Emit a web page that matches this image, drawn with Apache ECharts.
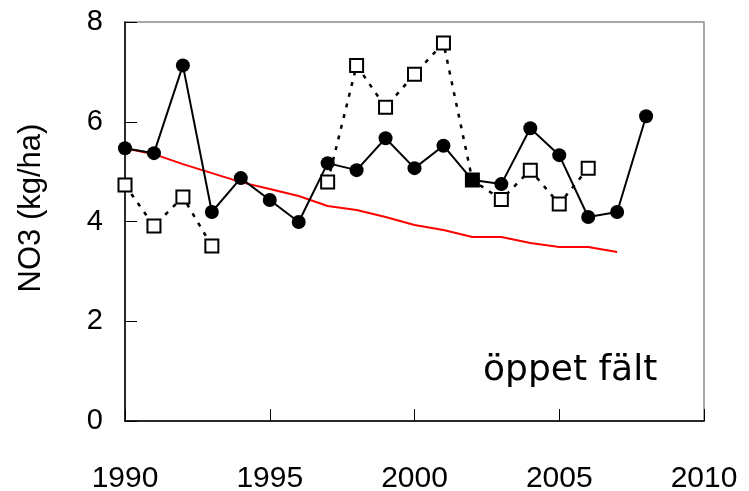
<!DOCTYPE html>
<html>
<head>
<meta charset="utf-8">
<script src="https://cdn.jsdelivr.net/npm/echarts@6/dist/echarts.min.js"></script>
<style>
  html, body { margin: 0; padding: 0; background: #fff; }
  #chart { width: 749px; height: 491px; }
</style>
</head>
<body>
<div id="chart"></div>
<script>
// år och mätvärden
const years = [1990, 1991, 1992, 1993, 1994, 1995, 1996, 1997, 1998, 1999,
  2000, 2001, 2002, 2003, 2004, 2005, 2006, 2007, 2008];
const filledValues = [5.47, 5.37, 7.13, 4.19, 4.87, 4.43, 3.99, 5.17, 5.03, 5.67,
  5.07, 5.52, 4.83, 4.75, 5.87, 5.33, 4.09, 4.19, 6.11];
const openValues = [4.73, 3.91, 4.49, 3.51, null, null, null, 4.79, 7.13, 6.29,
  6.95, 7.58, 4.83, 4.44, 5.03, 4.35, 5.07, null, null];
const trendValues = [5.47, 5.35, 5.15, 4.97, 4.79, 4.65, 4.51, 4.31, 4.23, 4.09,
  3.93, 3.83, 3.69, 3.69, 3.57, 3.49, 3.49, 3.39, null];
const blackSquareYear = 2002;

const font = '"Liberation Sans", Arial, sans-serif';

function pairs(vals) {
  return years.map((y, i) => [y, vals[i]]);
}

const chart = echarts.init(document.getElementById('chart'));

const option = {
  animation: false,
  grid: {
    left: 125, top: 22, right: 45, bottom: 70,
    outerBoundsMode: 'none',
    containLabel: false,
    show: true,
    borderColor: '#8c8c8c',
    borderWidth: 1.5,
    backgroundColor: 'transparent'
  },
  xAxis: {
    type: 'value',
    min: 1990, max: 2010, interval: 5,
    splitLine: { show: false },
    axisLine: { lineStyle: { color: '#000', width: 1.5 } },
    axisTick: { inside: true, length: 12, lineStyle: { color: '#000', width: 1 } },
    axisLabel: {
      color: '#000', fontSize: 30, fontFamily: font, margin: 43,
      formatter: v => String(v)
    }
  },
  yAxis: {
    type: 'value',
    min: 0, max: 8, interval: 2,
    splitLine: { show: false },
    axisLine: { show: true, lineStyle: { color: '#000', width: 1.5 } },
    axisTick: { show: true, inside: true, length: 12, lineStyle: { color: '#000', width: 1 } },
    axisLabel: { color: '#000', fontSize: 29, fontFamily: font, margin: 22 }
  },
  graphic: [
    {
      type: 'text',
      x: 31, y: 208,
      rotation: Math.PI / 2,
      style: {
        text: 'NO3 (kg/ha)',
        fontSize: 31, fontFamily: font, fill: '#000',
        align: 'center', verticalAlign: 'middle'
      }
    },
    {
      type: 'text',
      x: 483, y: 371,
      style: {
        text: 'öppet fält',
        fontSize: 36, fontFamily: '"DejaVu Sans", Verdana, sans-serif', fill: '#000',
        align: 'left', verticalAlign: 'middle'
      }
    }
  ],
  series: [
    {
      name: 'trend',
      type: 'line',
      data: pairs(trendValues),
      showSymbol: false,
      symbol: 'none',
      lineStyle: { color: '#ff0000', width: 2 },
      z: 2
    },
    {
      name: 'filled',
      type: 'line',
      data: pairs(filledValues),
      symbol: 'circle',
      symbolSize: 14,
      itemStyle: { color: '#000' },
      lineStyle: { color: '#000', width: 2 },
      z: 3
    },
    {
      name: 'open',
      type: 'line',
      data: pairs(openValues).map(p => p[0] === blackSquareYear
        ? { value: p, itemStyle: { color: '#000' } } : p),
      connectNulls: false,
      symbol: 'rect',
      symbolSize: 13,
      itemStyle: { color: '#fff', borderColor: '#000', borderWidth: 2 },
      lineStyle: { color: '#000', width: 2.5, type: [4, 7] },
      z: 4
    }
  ]
};

chart.setOption(option);
</script>
</body>
</html>
